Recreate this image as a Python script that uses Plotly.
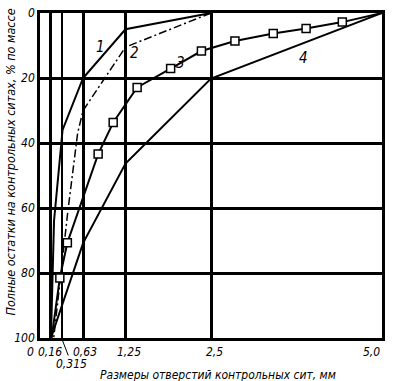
import plotly.graph_objects as go

# Sieve sizes (mm) and tick labels
x_ticks = [0, 0.16, 0.63, 1.25, 2.5, 5.0]
x_tick_labels = ["0", "0,16", "0,63", "1,25", "2,5", "5,0"]
x_minor_tick = [0.315]
x_minor_label = ["0,315"]
y_ticks = [0, 20, 40, 60, 80, 100]
y_tick_labels = ["0", "20", "40", "60", "80", "100"]

# Curves: total residue on sieves, % by mass
c1_x = [2.5, 1.25, 0.63, 0.33, 0.205, 0.16]
c1_y = [0, 5, 20, 36, 64, 100]

c2_x = [2.5, 1.25, 0.63, 0.55, 0.41, 0.2]
c2_y = [0, 10.5, 30, 37, 60.5, 100]

c3_x = [5.0, 4.42, 3.89, 3.41, 2.85, 2.36, 1.91, 1.42, 1.07, 0.85, 0.4, 0.29, 0.17]
c3_y = [0, 2.8, 4.8, 6.3, 8.6, 11.7, 17.1, 22.9, 33.7, 43.4, 70.7, 81.5, 100]

c4_x = [5.0, 2.5, 1.25, 0.63, 0.16]
c4_y = [0, 20.2, 46.3, 70.8, 100]

curve_labels = ["1", "2", "3", "4"]
label_x = [0.88, 1.38, 2.05, 3.85]
label_y = [10.5, 12.4, 15.5, 13.9]

FONT = "Liberation Sans Narrow, DejaVu Sans Condensed, Arial Narrow, sans-serif"

fig = go.Figure()
fig.add_trace(go.Scatter(x=c1_x, y=c1_y, mode="lines",
                         line=dict(color="black", width=2), showlegend=False))
fig.add_trace(go.Scatter(x=c2_x, y=c2_y, mode="lines",
                         line=dict(color="black", width=1.5, dash="8px,3px,2px,3px"),
                         showlegend=False))
fig.add_trace(go.Scatter(x=c3_x, y=c3_y, mode="lines",
                         line=dict(color="black", width=2), showlegend=False))
fig.add_trace(go.Scatter(x=c3_x[1:-1], y=c3_y[1:-1], mode="markers",
                         marker=dict(symbol="square", size=8, color="white",
                                     line=dict(color="black", width=1.5)),
                         showlegend=False))
fig.add_trace(go.Scatter(x=c4_x, y=c4_y, mode="lines",
                         line=dict(color="black", width=2), showlegend=False))

for t, lx, ly in zip(curve_labels, label_x, label_y):
    fig.add_annotation(x=lx, y=ly, text=t, showarrow=False,
                       font=dict(family=FONT, size=15, color="black", style="italic"))

# X tick labels as annotations for exact placement
anchors = ["right", "center", "center", "center", "center", "right"]
shifts = [-4, -1, 2, 3, 3, 0]
for v, t, a, s in zip(x_ticks, x_tick_labels, anchors, shifts):
    fig.add_annotation(x=v, y=0, yref="paper", text=t, showarrow=False,
                       xanchor=a, yanchor="middle", xshift=s, yshift=-14,
                       font=dict(family=FONT, size=12, color="black", style="italic"))

# 0,315 label with leader line
fig.add_annotation(x=x_minor_tick[0], y=100, text=x_minor_label[0],
                   showarrow=True, arrowhead=0, arrowwidth=1, arrowcolor="black",
                   ax=10, ay=26, xanchor="center", yanchor="middle",
                   font=dict(family=FONT, size=12, color="black", style="italic"))

# X axis title
fig.add_annotation(xref="paper", yref="paper", x=0.52, y=0, yshift=-37,
                   xanchor="center", yanchor="middle",
                   text="Размеры отверстий контрольных сит, мм", showarrow=False,
                   font=dict(family=FONT, size=12, color="black", style="italic"))

# Y axis title
fig.add_annotation(xref="paper", yref="paper", x=0, y=0.54, xshift=-30,
                   xanchor="center", yanchor="middle",
                   text="Полные остатки на контрольных ситах, % по массе",
                   textangle=-90, showarrow=False,
                   font=dict(family=FONT, size=12.5, color="black", style="italic"))

fig.update_layout(
    width=395, height=381,
    margin=dict(l=40, r=13, t=13, b=43),
    plot_bgcolor="white", paper_bgcolor="white",
    font=dict(family=FONT, color="black", style="italic"),
    xaxis=dict(range=[0, 5.0], tickvals=x_ticks, showticklabels=False,
               automargin=False,
               showgrid=True, gridcolor="black", gridwidth=2.5,
               minor=dict(tickvals=x_minor_tick, showgrid=True, gridcolor="black",
                          gridwidth=1.5, ticks=""),
               showline=True, linecolor="black", linewidth=2.5, mirror=True,
               zeroline=False, ticks=""),
    yaxis=dict(range=[100, 0], tickvals=y_ticks, ticktext=y_tick_labels,
               automargin=False,
               showgrid=True, gridcolor="black", gridwidth=2.5,
               showline=True, linecolor="black", linewidth=2.5, mirror=True,
               zeroline=False, ticks="", tickfont=dict(size=12, style="italic")),
)

# remove the default 8px page margin so the figure fills the window exactly
fig.write_html("out.html", config={"displayModeBar": False},
               post_script="document.body.style.margin='0px';document.body.style.overflow='hidden';")
